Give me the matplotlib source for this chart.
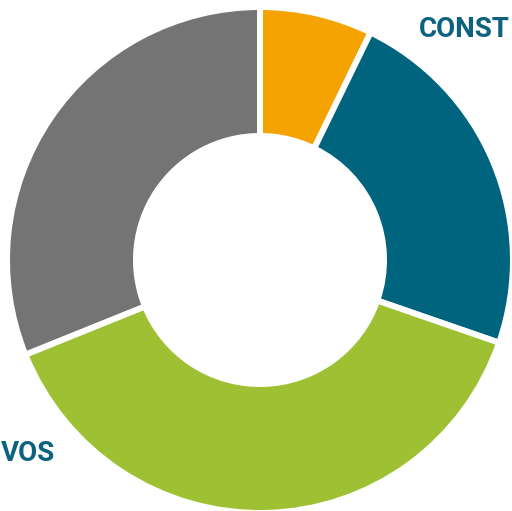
import matplotlib
matplotlib.use("Agg")
import matplotlib.pyplot as plt

# data (share of the ring, clockwise from 12 o'clock)
categories = ["Naranja", "Constructivos", "Evolutivos", "Otros"]
values = [7.2, 23.1, 38.6, 31.1]
colors = ["#F5A300", "#00647E", "#9DC132", "#747474"]
label_right = "CONST"
label_left = "VOS"
text_color = "#0D6280"

W, H = 512, 511
dpi = 100
fig = plt.figure(figsize=(W / dpi, H / dpi), dpi=dpi)
ax = fig.add_axes([0, 0, 1, 1])

gap_px = 6
lw = gap_px * 72 / dpi
outer = 250 + gap_px / 2
inner = 127 - gap_px / 2
cx, cy = 260, H - 260

ax.pie(values, colors=colors, startangle=90, counterclock=False,
       radius=outer, center=(cx, cy), frame=True,
       wedgeprops=dict(width=outer - inner, edgecolor="white", linewidth=lw))
ax.set_xlim(0, W)
ax.set_ylim(0, H)
ax.set_aspect("auto")
ax.axis("off")

ax.text(419, H - 37, label_right, ha="left", va="baseline", color=text_color,
        fontsize=20, fontweight="bold", family="Roboto")
ax.text(55, H - 461, label_left, ha="right", va="baseline", color=text_color,
        fontsize=20, fontweight="bold", family="Roboto")

fig.savefig("out.png", dpi=dpi)
